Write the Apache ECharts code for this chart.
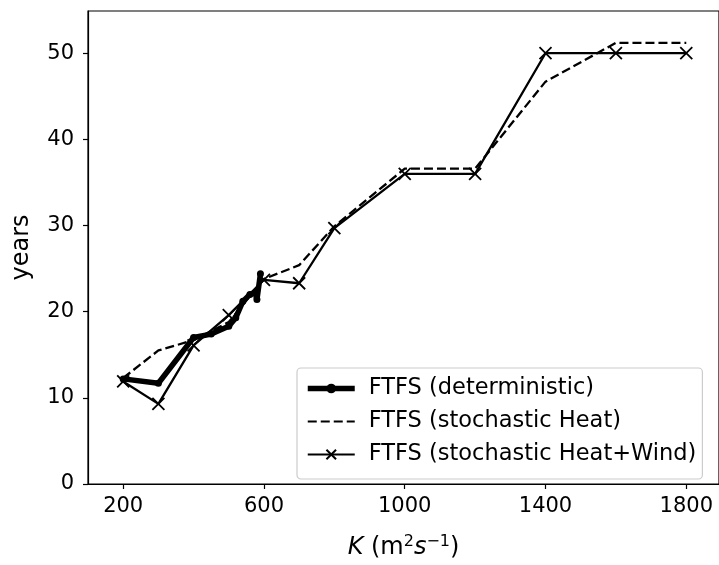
<!DOCTYPE html>
<html>
<head>
<meta charset="utf-8">
<script src="https://cdn.jsdelivr.net/npm/echarts@6/dist/echarts.min.js"></script>
<style>
  html, body { margin: 0; padding: 0; background: #fff; }
  #main { width: 719px; height: 565px; }
</style>
</head>
<body>
<div id="main"></div>
<script>
// K values (m^2 s^-1)
var kDet = [200, 300, 400, 450, 500, 520, 540, 560, 575, 580, 590];
var yearsDet = [12.2, 11.7, 17.0, 17.4, 18.3, 19.3, 21.2, 22.0, 22.2, 21.4, 24.4];

var kStoch = [200, 300, 400, 500, 600, 700, 800, 1000, 1200, 1400, 1600, 1800];
var yearsHeat = [12.3, 15.5, 16.7, 18.8, 23.8, 25.4, 29.9, 36.6, 36.6, 46.7, 51.2, 51.2];
var yearsHeatWind = [11.9, 9.3, 16.1, 19.6, 23.7, 23.3, 29.7, 36.0, 36.0, 50.0, 50.0, 50.0];

var xTicks = [200, 600, 1000, 1400, 1800];
var yTicks = [0, 10, 20, 30, 40, 50];

var seriesNames = ['FTFS (deterministic)', 'FTFS (stochastic Heat)', 'FTFS (stochastic Heat+Wind)'];

function pairs(xs, ys) {
    return xs.map(function (x, i) { return [x, ys[i]]; });
}

var font = 'DejaVu Sans';
var crossPath = 'path://M0,0L10,10M10,0L0,10';

var chart = echarts.init(document.getElementById('main'));
chart.setOption({
    animation: false,
    backgroundColor: '#fff',
    textStyle: { fontFamily: font, color: '#000' },
    grid: {
        left: 88, right: 0, top: 11, bottom: 77,
        show: true, borderColor: '#000', borderWidth: 1.2,
        containLabel: false
    },
    legend: {
        orient: 'vertical',
        left: 297, top: 368,
        padding: [9, 6, 13, 8],
        itemWidth: 47, itemHeight: 12,
        itemGap: 10,
        backgroundColor: '#fff',
        borderColor: '#ccc', borderWidth: 1.2, borderRadius: 4,
        textStyle: { fontFamily: font, fontSize: 22.5, lineHeight: 22, color: '#000', padding: [0, 0, 0, 9] },
        data: [
            { name: seriesNames[0], lineStyle: { width: 5.5 } },
            { name: seriesNames[1], itemStyle: { opacity: 0 } },
            { name: seriesNames[2] }
        ]
    },
    xAxis: {
        type: 'value',
        min: 100, max: 1893,
        name: '{i|K} (m{sup|2}{i|s}{sup|−1})',
        nameLocation: 'middle',
        nameGap: 50,
        nameTextStyle: {
            fontFamily: font, fontSize: 24, color: '#000',
            rich: {
                i: { fontFamily: font, fontSize: 24, fontStyle: 'italic' },
                sup: { fontFamily: font, fontSize: 16, verticalAlign: 'top', padding: [0, 0, 12, 0] }
            }
        },
        axisLine: { show: true, onZero: false, lineStyle: { color: '#000', width: 1.2 } },
        axisTick: { show: true, length: 5, customValues: xTicks, lineStyle: { color: '#000', width: 1.2 } },
        axisLabel: {
            customValues: xTicks, margin: 12, fontFamily: font, fontSize: 21, color: '#000',
            formatter: function (v) { return String(v); }
        },
        splitLine: { show: false }
    },
    yAxis: {
        type: 'value',
        min: 0, max: 54.9,
        name: 'years',
        nameLocation: 'middle',
        nameGap: 54,
        nameTextStyle: { fontFamily: font, fontSize: 24, color: '#000' },
        axisLine: { show: true, lineStyle: { color: '#000', width: 1.2 } },
        axisTick: { show: true, length: 5, customValues: yTicks, lineStyle: { color: '#000', width: 1.2 } },
        axisLabel: { customValues: yTicks, margin: 14, fontFamily: font, fontSize: 21, color: '#000' },
        splitLine: { show: false }
    },
    series: [
        {
            name: seriesNames[0],
            type: 'line',
            data: pairs(kDet, yearsDet),
            symbol: 'circle',
            symbolSize: 7,
            showAllSymbol: true,
            lineStyle: { color: '#000', width: 5.5 },
            itemStyle: { color: '#000' },
            z: 2
        },
        {
            name: seriesNames[1],
            type: 'line',
            data: pairs(kStoch, yearsHeat),
            symbol: 'none',
            lineStyle: { color: '#000', width: 2.3, type: [9, 4] },
            itemStyle: { color: '#000' },
            z: 3
        },
        {
            name: seriesNames[2],
            type: 'line',
            data: pairs(kStoch, yearsHeatWind),
            symbol: crossPath,
            symbolSize: 12,
            showAllSymbol: true,
            lineStyle: { color: '#000', width: 2.3 },
            itemStyle: { color: 'none', borderColor: '#000', borderWidth: 1.8 },
            z: 4
        }
    ]
});
</script>
</body>
</html>
